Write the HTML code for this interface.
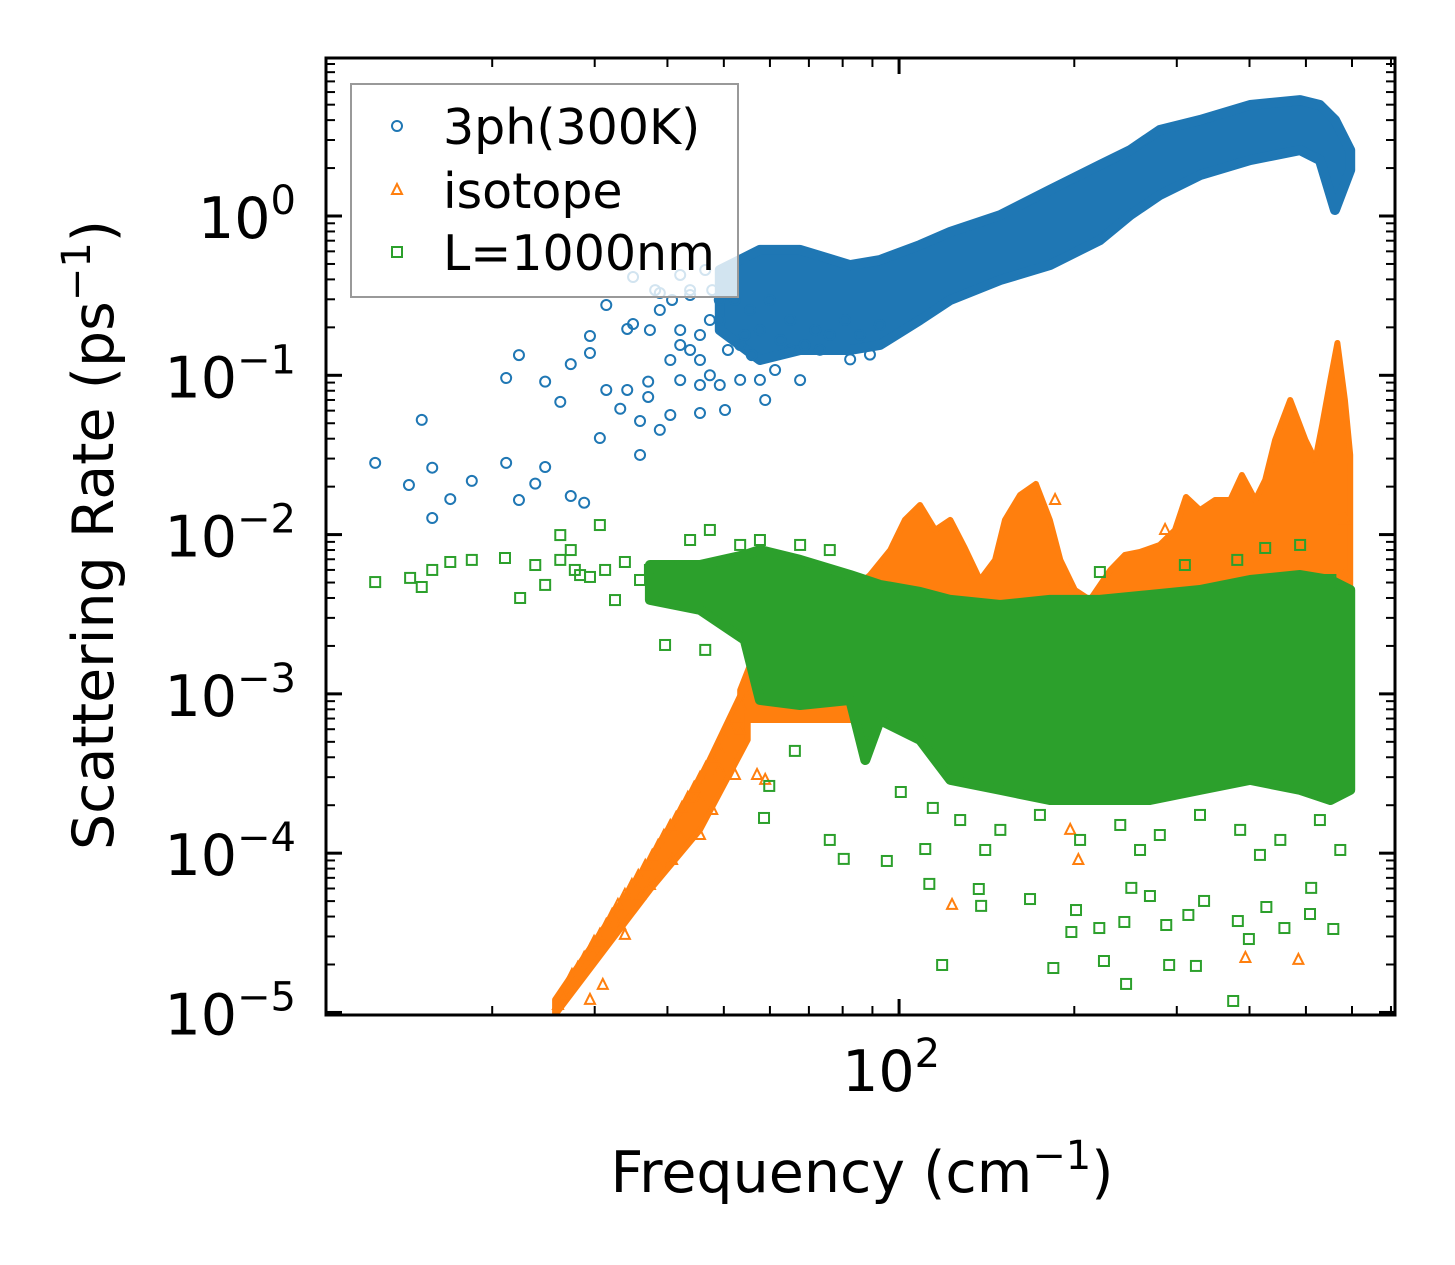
<!DOCTYPE html>
<html><head><meta charset="utf-8"><style>
html,body{margin:0;padding:0;background:#fff;}
svg{display:block;font-family:"DejaVu Sans","Liberation Sans",sans-serif;}
</style></head><body>
<svg id="chart" width="1455" height="1265" viewBox="0 0 1455 1265" xmlns="http://www.w3.org/2000/svg">
<rect width="1455" height="1265" fill="#fff"/>
<g id="plot"></g>
</svg>
<script>
// ---- data (log10 of frequency in cm^-1, log10 of rate in ps^-1) ----
const xTickLabels = ["10", "2"];
const yDecades = [0, -1, -2, -3, -4, -5];
const xMinorValues = [20,30,40,50,60,70,80,90,200,300,400,500,600,700];

// 3ph dense band
const blueBandFreq = [1.692,1.761,1.830,1.916,1.967,2.036,2.088,2.174,2.259,2.345,2.397,2.448,2.517,2.603,2.689,2.723,2.749,2.775];
const blueBandHigh = [-0.339,-0.213,-0.213,-0.308,-0.276,-0.182,-0.10,0.006,0.163,0.32,0.414,0.54,0.603,0.697,0.728,0.697,0.603,0.414];
const blueBandLow  = [-0.716,-0.904,-0.841,-0.841,-0.81,-0.653,-0.527,-0.402,-0.308,-0.151,0.006,0.132,0.257,0.351,0.414,0.351,0.038,0.289];
// 3ph sparse points
const blueFreq = [1.100,1.158,1.180,1.198,1.198,1.229,1.266,1.325,1.325,1.347,1.347,1.375,1.392,1.392,1.418,1.436,1.436,1.459,1.469,1.469,1.486,1.497,1.497,1.521,1.533,1.533,1.543,1.543,1.555,1.555,1.569,1.569,1.589,1.589,1.607,1.607,1.624,1.624,1.641,1.641,1.658,1.658,1.675,1.675,1.692,1.727,1.744,1.770,1.787,1.813,1.830,1.864,1.916,1.950,
  1.572,1.589,1.610,1.624,1.641,1.658,1.667,1.679,1.692,1.706,1.718,1.735,1.747,1.761,1.778,1.796,1.813,1.838,1.856,1.881,1.907,1.933,1.967,1.658,1.692,1.727,1.761,1.701,1.624,1.581];
const blueRate = [-1.55,-1.689,-1.28,-1.58,-1.896,-1.777,-1.663,-1.55,-1.017,-1.783,-0.873,-1.68,-1.04,-1.576,-1.167,-0.93,-1.758,-1.80,-0.753,-0.86,-1.394,-0.559,-1.092,-1.21,-0.709,-1.092,-0.383,-0.678,-1.287,-1.50,-1.136,-1.04,-0.483,-1.343,-0.904,-1.249,-1.03,-0.716,-0.496,-0.841,-1.061,-1.237,-0.653,-1.0,-0.527,-0.81,-0.59,-1.155,-0.967,-0.84,-1.03,-0.84,-0.90,-0.87,
  -0.716,-0.59,-0.527,-0.81,-0.465,-0.747,-0.339,-0.465,-0.653,-0.841,-0.527,-0.747,-0.873,-0.716,-0.527,-0.778,-0.653,-0.81,-0.716,-0.747,-0.653,-0.747,-0.684,-0.904,-1.061,-1.029,-1.029,-1.218,-0.37,-0.465];

// isotope dense envelope (top edge) ; base at isoBase
const isoBandFreq = [1.727,1.761,1.830,1.899,1.950,1.985,2.010,2.036,2.062,2.088,2.113,2.139,2.165,2.182,2.208,2.235,2.259,2.277,2.302,2.328,2.363,2.388,2.414,2.448,2.474,2.493,2.517,2.543,2.569,2.589,2.612,2.629,2.646,2.672,2.698,2.715,2.727,2.741,2.753,2.766,2.775];
const isoBandHigh = [-2.976,-2.662,-2.473,-2.41,-2.254,-2.097,-1.908,-1.814,-1.971,-1.908,-2.084,-2.285,-2.159,-1.908,-1.751,-1.682,-1.908,-2.159,-2.348,-2.41,-2.222,-2.128,-2.109,-2.065,-1.971,-1.764,-1.846,-1.783,-1.783,-1.626,-1.783,-1.657,-1.406,-1.155,-1.406,-1.532,-1.312,-1.029,-0.797,-1.155,-1.50];
const isoBase = -3.164;
// isotope low-frequency tail band
const isoTailFreq = [1.409,1.572,1.658,1.740];
const isoTailHigh = [-4.92,-4.043,-3.54,-2.913];
const isoTailLow  = [-5.016,-4.231,-3.854,-3.289];
// isotope sparse points
const isoFreq = [1.414,1.423,1.431,1.438,1.448,1.459,1.469,1.476,1.486,1.497,1.507,1.517,1.529,1.541,1.552,1.564,1.576,1.586,1.596,1.607,1.617,1.627,1.637,1.648,1.658,1.668,1.679,1.689,1.699,1.710,1.720,1.730,1.741,1.469,1.491,1.529,1.572,1.610,1.658,1.679,1.718,1.756,1.770,1.521,1.555,1.589,1.624,1.658,1.692,1.727,2.091,2.595,2.686,2.294,2.308,2.766,2.766,2.457,2.268];
const isoRate = [-4.953,-4.890,-4.827,-4.765,-4.721,-4.658,-4.608,-4.557,-4.513,-4.451,-4.388,-4.325,-4.262,-4.200,-4.143,-4.080,-4.017,-3.955,-3.892,-3.829,-3.779,-3.716,-3.653,-3.590,-3.528,-3.465,-3.402,-3.340,-3.277,-3.214,-3.151,-3.089,-3.026,-4.921,-4.827,-4.513,-4.200,-4.043,-3.886,-3.729,-3.509,-3.509,-3.540,-4.451,-4.262,-4.074,-3.886,-3.666,-3.478,-3.226,-4.325,-4.658,-4.670,-3.854,-4.043,-1.908,-2.254,-1.971,-1.783];

// boundary (L=1000nm) dense band
const bndBandFreq = [1.572,1.658,1.735,1.761,1.830,1.916,1.942,1.967,2.036,2.088,2.174,2.259,2.345,2.431,2.517,2.603,2.689,2.741,2.775];
const bndBandHigh = [-2.191,-2.191,-2.128,-2.097,-2.159,-2.254,-2.285,-2.316,-2.36,-2.41,-2.442,-2.41,-2.41,-2.379,-2.348,-2.285,-2.254,-2.285,-2.348];
const bndBandLow  = [-2.41,-2.473,-2.662,-3.038,-3.07,-3.038,-3.415,-3.164,-3.289,-3.54,-3.603,-3.666,-3.666,-3.666,-3.603,-3.54,-3.603,-3.666,-3.603];
// boundary sparse points
const bndFreq = [1.100,1.160,1.180,1.198,1.229,1.266,1.323,1.349,1.375,1.392,1.418,1.436,1.443,1.469,1.486,1.495,1.512,1.555,1.598,1.624,1.667,1.675,1.418,1.452,1.529,1.572,1.641,1.727,1.761,1.830,1.881,
  1.768,1.881,1.905,1.979,2.045,2.052,2.074,2.003,2.058,1.821,1.777,
  2.265,2.352,2.390,2.464,2.510,2.574,2.296,2.344,2.304,2.387,2.459,2.497,2.524,2.582,2.601,2.631,2.662,2.706,2.708,2.746,2.431,2.399,2.225,2.141,2.137,
  2.629,2.581,2.689,2.491,2.345,2.741,
  2.105,2.174,2.242,2.311,2.380,2.448,2.517,2.586,2.655,2.723,2.758,2.148,2.414,2.620];
const bndRate = [-2.298,-2.272,-2.329,-2.222,-2.172,-2.159,-2.147,-2.398,-2.191,-2.316,-2.003,-2.097,-2.222,-2.266,-1.940,-2.222,-2.411,-2.285,-2.693,-2.210,-2.724,-1.971,-2.159,-2.254,-2.172,-2.222,-2.034,-2.065,-2.034,-2.065,-2.097,
  -3.779,-3.917,-4.036,-4.049,-3.974,-4.193,-4.702,-3.616,-3.716,-3.358,-3.578,
  -4.721,-4.677,-4.821,-4.702,-4.708,-4.928,-4.495,-4.470,-4.357,-4.432,-4.451,-4.388,-4.300,-4.426,-4.539,-4.338,-4.470,-4.382,-4.218,-4.476,-4.269,-4.218,-4.288,-4.331,-4.225,
  -2.084,-2.159,-2.065,-2.191,-2.235,-2.285,
  -3.792,-3.854,-3.760,-3.917,-3.823,-3.886,-3.760,-3.854,-3.917,-3.792,-3.98,-3.98,-3.98,-4.011];

const legendLabels = ["3ph(300K)", "isotope", "L=1000nm"];

// ---- axes ----
const PX0 = 326, PX1 = 1395, PY0 = 58, PY1 = 1015;
const XMIN = 1.0155, XMAX = 2.852, YMIN = -5.016, YMAX = 0.992;
const xs = v => PX0 + (v - XMIN) / (XMAX - XMIN) * (PX1 - PX0);
const ys = v => PY1 - (v - YMIN) / (YMAX - YMIN) * (PY1 - PY0);
const NS = "http://www.w3.org/2000/svg";
const plot = document.getElementById("plot");
function mk(tag, attrs, parent) {
  const e = document.createElementNS(NS, tag);
  for (const k in attrs) e.setAttribute(k, attrs[k]);
  (parent || plot).appendChild(e);
  return e;
}
const BLUE = "#1f77b4", ORANGE = "#ff7f0e", GREEN = "#2ca02c";

function bandPath(fx, hi, lo) {
  let d = "";
  for (let i = 0; i < fx.length; i++) d += (i ? "L" : "M") + xs(fx[i]).toFixed(1) + " " + ys(hi[i]).toFixed(1);
  for (let i = fx.length - 1; i >= 0; i--) d += "L" + xs(fx[i]).toFixed(1) + " " + ys(lo[i]).toFixed(1);
  return d + "Z";
}
function circle(cx, cy, g) {
  const c = mk("circle", {cx: cx, cy: cy, r: 5, fill: "none", stroke: BLUE, "stroke-width": 2}, g);
  
  
}
function tri(cx, cy, g) {
  const p = mk("polygon", {points: `${cx},${cy-6} ${cx-5},${cy+4} ${cx+5},${cy+4}`, fill: "none", stroke: ORANGE, "stroke-width": 2}, g);
  
  
}
function sq(cx, cy, g) {
  const r = mk("rect", {x: cx-5, y: cy-5, width: 10, height: 10, fill: "none", stroke: GREEN, "stroke-width": 2}, g);
  
  
}

const defs = mk("defs", {});
const cp = mk("clipPath", {id: "clip"}, defs);
mk("rect", {x: PX0, y: PY0, width: PX1 - PX0, height: PY1 - PY0}, cp);
const data = mk("g", {"clip-path": "url(#clip)"});



// blue series
const gB = mk("g", {}, data);


const bb = mk("path", {d: bandPath(blueBandFreq, blueBandHigh, blueBandLow), fill: BLUE, stroke: BLUE, "stroke-width": 10, "stroke-linejoin": "round"}, gB);


for (let i = 0; i < blueFreq.length; i++) circle(xs(blueFreq[i]), ys(blueRate[i]), gB);

// orange series
const gO = mk("g", {}, data);


const lowIso = isoBandFreq.map(() => isoBase);
const ob = mk("path", {d: bandPath(isoBandFreq, isoBandHigh, lowIso), fill: ORANGE, stroke: ORANGE, "stroke-width": 6, "stroke-linejoin": "round"}, gO);


const ot = mk("path", {d: bandPath(isoTailFreq, isoTailHigh, isoTailLow), fill: ORANGE, stroke: ORANGE, "stroke-width": 6, "stroke-linejoin": "round"}, gO);


for (let i = 0; i < isoFreq.length; i++) tri(xs(isoFreq[i]), ys(isoRate[i]), gO);

// green series
const gG = mk("g", {}, data);


const gb = mk("path", {d: bandPath(bndBandFreq, bndBandHigh, bndBandLow), fill: GREEN, stroke: GREEN, "stroke-width": 10, "stroke-linejoin": "round"}, gG);


for (let i = 0; i < bndFreq.length; i++) sq(xs(bndFreq[i]), ys(bndRate[i]), gG);

// ---- ticks ----
const gT = mk("g", {stroke: "#000"});


for (const d of yDecades) {
  const y = ys(d);
  mk("line", {x1: PX0, x2: PX0 + 16, y1: y, y2: y, "stroke-width": 3}, gT);
  mk("line", {x1: PX1, x2: PX1 - 16, y1: y, y2: y, "stroke-width": 3}, gT);
  for (let m = 2; m <= 9; m++) {
    const v = d + Math.log10(m);
    if (v > YMAX) continue;
    const ym = ys(v);
    mk("line", {x1: PX0, x2: PX0 + 9, y1: ym, y2: ym, "stroke-width": 2}, gT);
    mk("line", {x1: PX1, x2: PX1 - 9, y1: ym, y2: ym, "stroke-width": 2}, gT);
  }
  const t = mk("text", {x: 296, y: y + 22, "text-anchor": "end", "font-size": 57, fill: "#000", stroke: "none"});
  
  
  t.textContent = "10";
  const s = mk("tspan", {"font-size": 40, dy: -24}, t);
  s.textContent = d === 0 ? "0" : "\u2212" + (-d);
}
const xMaj = xs(2);
mk("line", {x1: xMaj, x2: xMaj, y1: PY1, y2: PY1 - 16, "stroke-width": 3}, gT);
mk("line", {x1: xMaj, x2: xMaj, y1: PY0, y2: PY0 + 16, "stroke-width": 3}, gT);
for (const m of xMinorValues) {
  const x = xs(Math.log10(m));
  mk("line", {x1: x, x2: x, y1: PY1, y2: PY1 - 9, "stroke-width": 2}, gT);
  mk("line", {x1: x, x2: x, y1: PY0, y2: PY0 + 9, "stroke-width": 2}, gT);
}
const xt = mk("text", {x: xMaj - 8, y: 1091, "text-anchor": "middle", "font-size": 57, fill: "#000"});


xt.textContent = xTickLabels[0];
const xs2 = mk("tspan", {"font-size": 40, dy: -24}, xt);
xs2.textContent = xTickLabels[1];

const frame = mk("rect", {x: PX0, y: PY0, width: PX1 - PX0, height: PY1 - PY0, fill: "none", stroke: "#000", "stroke-width": 3});



// axis titles
const xl = mk("text", {x: 862, y: 1192, "text-anchor": "middle", "font-size": 57, fill: "#000"});


xl.textContent = "Frequency (cm";
const xl2 = mk("tspan", {"font-size": 40, dy: -23}, xl); xl2.textContent = "\u22121";
const xl3 = mk("tspan", {dy: 23}, xl); xl3.textContent = ")";

const yl = mk("text", {x: 0, y: 0, transform: "translate(113,535) rotate(-90)", "text-anchor": "middle", "font-size": 57, fill: "#000"});


yl.textContent = "Scattering Rate (ps";
const yl2 = mk("tspan", {"font-size": 40, dy: -23}, yl); yl2.textContent = "\u22121";
const yl3 = mk("tspan", {dy: 23}, yl); yl3.textContent = ")";

// legend
const gL = mk("g", {});


mk("rect", {x: 351, y: 84, width: 387, height: 213, fill: "rgba(255,255,255,0.8)", stroke: "#999", "stroke-width": 2}, gL);
const rowsY = [126, 190, 252];
for (let i = 0; i < legendLabels.length; i++) {
  const y = rowsY[i];
  if (i === 0) circle(397, y, gL);
  else if (i === 1) tri(397, y, gL);
  else sq(397, y, gL);
  const t = mk("text", {x: 443, y: y + 18, "font-size": 49, fill: "#000"}, gL);
  
  
  t.textContent = legendLabels[i];
}
</script>
</body></html>
